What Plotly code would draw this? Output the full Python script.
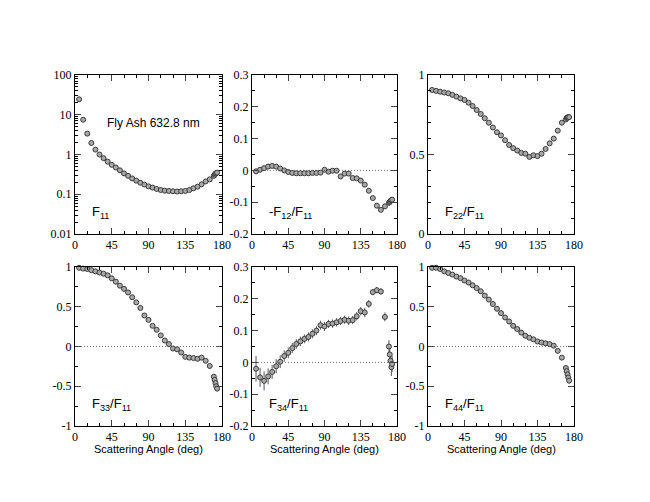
import plotly.graph_objects as go

angles = [5, 10, 15, 20, 25, 30, 35, 40, 45, 50, 55, 60, 65, 70, 75, 80, 85, 90, 95,
          100, 105, 110, 115, 120, 125, 130, 135, 140, 145, 150, 155, 160, 165, 170,
          171, 172, 173, 174]

f11 = [24.5, 7.5, 3.35, 1.95, 1.33, 1.0, 0.81, 0.66, 0.55, 0.47, 0.40, 0.335, 0.29, 0.25,
       0.22, 0.195, 0.175, 0.158, 0.147, 0.136, 0.128, 0.123, 0.121, 0.119, 0.117, 0.119,
       0.121, 0.128, 0.141, 0.155, 0.178, 0.21, 0.237, 0.29, 0.31, 0.33, 0.34, 0.35]

mf12 = [-0.003, 0.002, 0.007, 0.012, 0.014, 0.012, 0.006, 0.0, -0.005, -0.008, -0.009,
        -0.009, -0.009, -0.009, -0.008, -0.008, -0.007, 0.002, -0.004, -0.001, -0.001,
        -0.019, -0.01, -0.01, -0.024, -0.025, -0.032, -0.045, -0.064, -0.087, -0.111,
        -0.124, -0.113, -0.102, -0.099, -0.096, -0.094, -0.092]

f22 = [0.906, 0.90, 0.895, 0.89, 0.885, 0.875, 0.864, 0.853, 0.843, 0.826, 0.805, 0.78,
       0.755, 0.728, 0.70, 0.67, 0.64, 0.62, 0.59, 0.56, 0.54, 0.525, 0.51, 0.505, 0.485,
       0.495, 0.49, 0.505, 0.535, 0.57, 0.60, 0.65, 0.70, 0.72, 0.73, 0.733, 0.735, 0.735]

f33 = [0.99, 0.98, 0.975, 0.96, 0.945, 0.93, 0.915, 0.895, 0.857, 0.815, 0.765, 0.725,
       0.68, 0.62, 0.555, 0.485, 0.39, 0.335, 0.26, 0.21, 0.14, 0.075, 0.03, -0.025,
       -0.035, -0.075, -0.13, -0.14, -0.145, -0.155, -0.14, -0.18, -0.245, -0.38, -0.42,
       -0.46, -0.50, -0.53]

f34 = [-0.02, -0.047, -0.058, -0.044, -0.03, -0.012, 0.002, 0.02, 0.03, 0.045, 0.058,
       0.066, 0.074, 0.08, 0.09, 0.10, 0.117, 0.113, 0.121, 0.122, 0.126, 0.13, 0.134,
       0.131, 0.133, 0.145, 0.161, 0.157, 0.184, 0.221, 0.227, 0.223, 0.143, 0.05, 0.025,
       0.005, -0.015, -0.005]

f34_err = [0.04, 0.03, 0.03, 0.025, 0.022, 0.022, 0.02, 0.018, 0.017, 0.016, 0.015,
           0.015, 0.014, 0.014, 0.014, 0.014, 0.014, 0.014, 0.013, 0.013, 0.013, 0.013,
           0.013, 0.013, 0.013, 0.013, 0.013, 0.015, 0.012, 0.01, 0.01, 0.01, 0.014, 0.02,
           0.022, 0.022, 0.028, 0.025]

f44 = [0.99, 0.99, 0.975, 0.945, 0.925, 0.905, 0.88, 0.86, 0.83, 0.805, 0.77, 0.735,
       0.695, 0.64, 0.59, 0.535, 0.475, 0.42, 0.365, 0.315, 0.26, 0.22, 0.175, 0.135, 0.11,
       0.09, 0.063, 0.05, 0.04, 0.03, 0.01, -0.055, -0.14, -0.27, -0.31, -0.35, -0.39, -0.43]

x_ticks = [0, 45, 90, 135, 180]

W, H = 650, 502
cols = [(75, 222), (252, 397), (428, 574)]
rows = [(75, 234), (267, 426)]

panels = [
    dict(y=f11, err=None, label="F<sub>11</sub>", log=True,
         yt=[0.01, 0.1, 1, 10, 100], ytt=["0.01", "0.1", "1", "10", "100"],
         rng=[-2, 2], zero=False, minor=None),
    dict(y=mf12, err=None, label="-F<sub>12</sub>/F<sub>11</sub>", log=False,
         yt=[-0.2, -0.1, 0, 0.1, 0.2, 0.3], ytt=["-0.2", "-0.1", "0", "0.1", "0.2", "0.3"],
         rng=[-0.2, 0.3], zero=True, minor=0.05),
    dict(y=f22, err=None, label="F<sub>22</sub>/F<sub>11</sub>", log=False,
         yt=[0, 0.5, 1], ytt=["0", "0.5", "1"], rng=[0, 1], zero=False, minor=0.1),
    dict(y=f33, err=None, label="F<sub>33</sub>/F<sub>11</sub>", log=False,
         yt=[-1, -0.5, 0, 0.5, 1], ytt=["-1", "-0.5", "0", "0.5", "1"], rng=[-1, 1],
         zero=True, minor=0.25),
    dict(y=f34, err=f34_err, label="F<sub>34</sub>/F<sub>11</sub>", log=False,
         yt=[-0.2, -0.1, 0, 0.1, 0.2, 0.3], ytt=["-0.2", "-0.1", "0", "0.1", "0.2", "0.3"],
         rng=[-0.2, 0.3], zero=True, minor=0.05),
    dict(y=f44, err=None, label="F<sub>44</sub>/F<sub>11</sub>", log=False,
         yt=[-1, -0.5, 0, 0.5, 1], ytt=["-1", "-0.5", "0", "0.5", "1"], rng=[-1, 1],
         zero=True, minor=0.25),
]

fig = go.Figure()
tick_font = dict(family="Liberation Serif", size=12, color="black")
shapes = []
annotations = []

for i, p in enumerate(panels):
    r, c = divmod(i, 3)
    n = i + 1
    xa = "x" if n == 1 else f"x{n}"
    ya = "y" if n == 1 else f"y{n}"
    xkey = "xaxis" if n == 1 else f"xaxis{n}"
    ykey = "yaxis" if n == 1 else f"yaxis{n}"
    x0, x1 = cols[c]
    y0, y1 = rows[r]

    tr = dict(x=angles, y=p["y"], mode="markers", xaxis=xa, yaxis=ya, showlegend=False,
              cliponaxis=False,
              marker=dict(size=5, color="#a8a8a8", line=dict(color="#3a3a3a", width=1)))
    if p["err"] is not None:
        tr["error_y"] = dict(type="data", array=p["err"], visible=True, color="#555555",
                             thickness=1, width=0)
    fig.add_trace(go.Scatter(**tr))

    fig.layout[xkey] = dict(domain=[x0 / W, x1 / W], range=[0, 180], anchor=ya,
                            automargin=False,
                            tickvals=x_ticks, ticks="inside", ticklen=6, tickwidth=1,
                            showline=True, linecolor="black", linewidth=1, mirror="ticks",
                            showgrid=False, zeroline=False, tickfont=tick_font,
                            minor=dict(dtick=15, tick0=0, ticks="inside", ticklen=3,
                                       tickcolor="black", showgrid=False))
    yd = dict(domain=[1 - y1 / H, 1 - y0 / H], anchor=xa, tickvals=p["yt"],
              automargin=False,
              ticktext=p["ytt"], ticks="inside", ticklen=6, tickwidth=1,
              showline=True, linecolor="black", linewidth=1, mirror="ticks",
              showgrid=False, zeroline=False, tickfont=tick_font, range=p["rng"])
    if p["log"]:
        yd["type"] = "log"
        yd["minor"] = dict(dtick="D1", ticks="inside", ticklen=3, tickcolor="black",
                           showgrid=False)
    else:
        yd["minor"] = dict(dtick=p["minor"], ticks="inside", ticklen=3,
                           tickcolor="black", showgrid=False)
    fig.layout[ykey] = yd

    if p["zero"]:
        shapes.append(dict(type="line", xref=f"{xa} domain", yref=ya, x0=0, x1=1,
                           y0=0, y1=0,
                           line=dict(color="#555555", width=0.8, dash="1px,2px")))

    annotations.append(dict(text=p["label"], xref="paper", yref="paper",
                            x=(x0 + 15) / W, y=1 - (y1 - 22) / H, xanchor="left",
                            yanchor="middle", showarrow=False,
                            font=dict(family="Liberation Sans", size=13, color="black")))
    if r == 1:
        annotations.append(dict(text="Scattering Angle (deg)", xref="paper", yref="paper",
                                x=(x0 + x1) / 2 / W, y=1 - 449 / H, xanchor="center",
                                yanchor="middle", showarrow=False,
                                font=dict(family="Liberation Sans", size=11, color="black")))

annotations.append(dict(text="Fly Ash 632.8 nm", xref="paper", yref="paper",
                        x=153 / W, y=1 - 123 / H, xanchor="center", yanchor="middle",
                        showarrow=False,
                        font=dict(family="Liberation Sans", size=12, color="black")))

fig.update_layout(width=W, height=H, margin=dict(l=0, r=0, t=0, b=0),
                  paper_bgcolor="white", plot_bgcolor="white",
                  shapes=shapes, annotations=annotations)

fig.write_html("out.html", config={"displayModeBar": False},
               post_script="document.body.style.margin='0';document.body.style.padding='0';")
